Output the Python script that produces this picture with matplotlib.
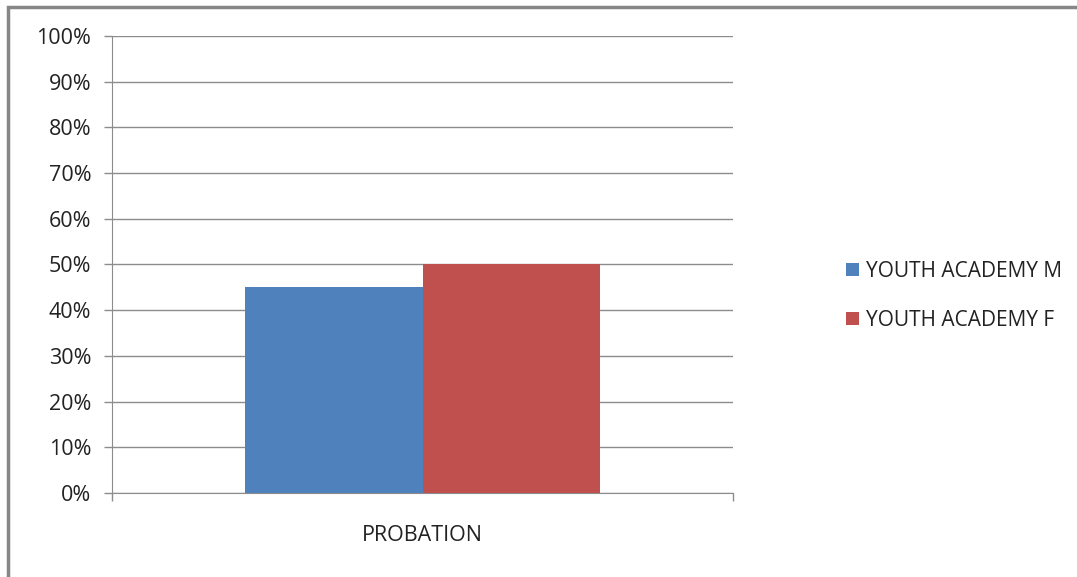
import matplotlib.pyplot as plt
from matplotlib.patches import Rectangle
from matplotlib.ticker import PercentFormatter

categories = ['PROBATION']
series_names = ['YOUTH ACADEMY M', 'YOUTH ACADEMY F']
series_values = [45, 50]
series_colors = ['#4F81BD', '#C0504D']
yticks = list(range(0, 101, 10))

plt.rcParams['font.family'] = ['Open Sans', 'DejaVu Sans']
fs = 15.5

fig = plt.figure(figsize=(10.77, 5.77), dpi=100)
ax = fig.add_axes([0.104, 0.1456, 0.5766, 0.792])

# chart-area border (only top and left edges fall inside the image)
fig.patches.append(Rectangle((0.0075, -0.1), 1.2, 1.0879, transform=fig.transFigure,
                             fill=False, edgecolor='#878787', linewidth=2.5, zorder=0))

bar_w = 0.286
center = 0.5
for i, (name, val) in enumerate(zip(series_names, series_values)):
    x = center + (i - 0.5) * bar_w
    ax.bar(x, val, width=bar_w, color=series_colors[i], label=name, zorder=3)

ax.set_xlim(0, 1)
ax.set_ylim(0, 100)
ax.set_yticks(yticks)
ax.yaxis.set_major_formatter(PercentFormatter(decimals=0))
ax.grid(axis='y', color='#8c8c8c', linewidth=1, zorder=0)
ax.set_axisbelow(True)

ax.set_xticks([0, 1])
ax.set_xticklabels([])
ax.tick_params(axis='x', length=6, color='#8c8c8c', width=1)
ax.tick_params(axis='y', length=6, color='#8c8c8c', width=1, labelsize=fs, pad=9,
               labelcolor='#222222')
ax.text(center, -0.092, categories[0], transform=ax.transAxes, ha='center', va='center',
        fontsize=fs, color='#222222')

for s in ['top', 'right']:
    ax.spines[s].set_visible(False)
ax.spines['left'].set_color('#8c8c8c')
ax.spines['bottom'].set_color('#8c8c8c')

leg = ax.legend(loc='center left', bbox_to_anchor=(1.1825, 0.432), frameon=False,
                fontsize=15, handlelength=0.6, handleheight=0.6, handletextpad=0.35,
                labelspacing=1.35, borderpad=0, borderaxespad=0)
for t in leg.get_texts():
    t.set_color('#222222')

fig.savefig('out.png', dpi=100)
